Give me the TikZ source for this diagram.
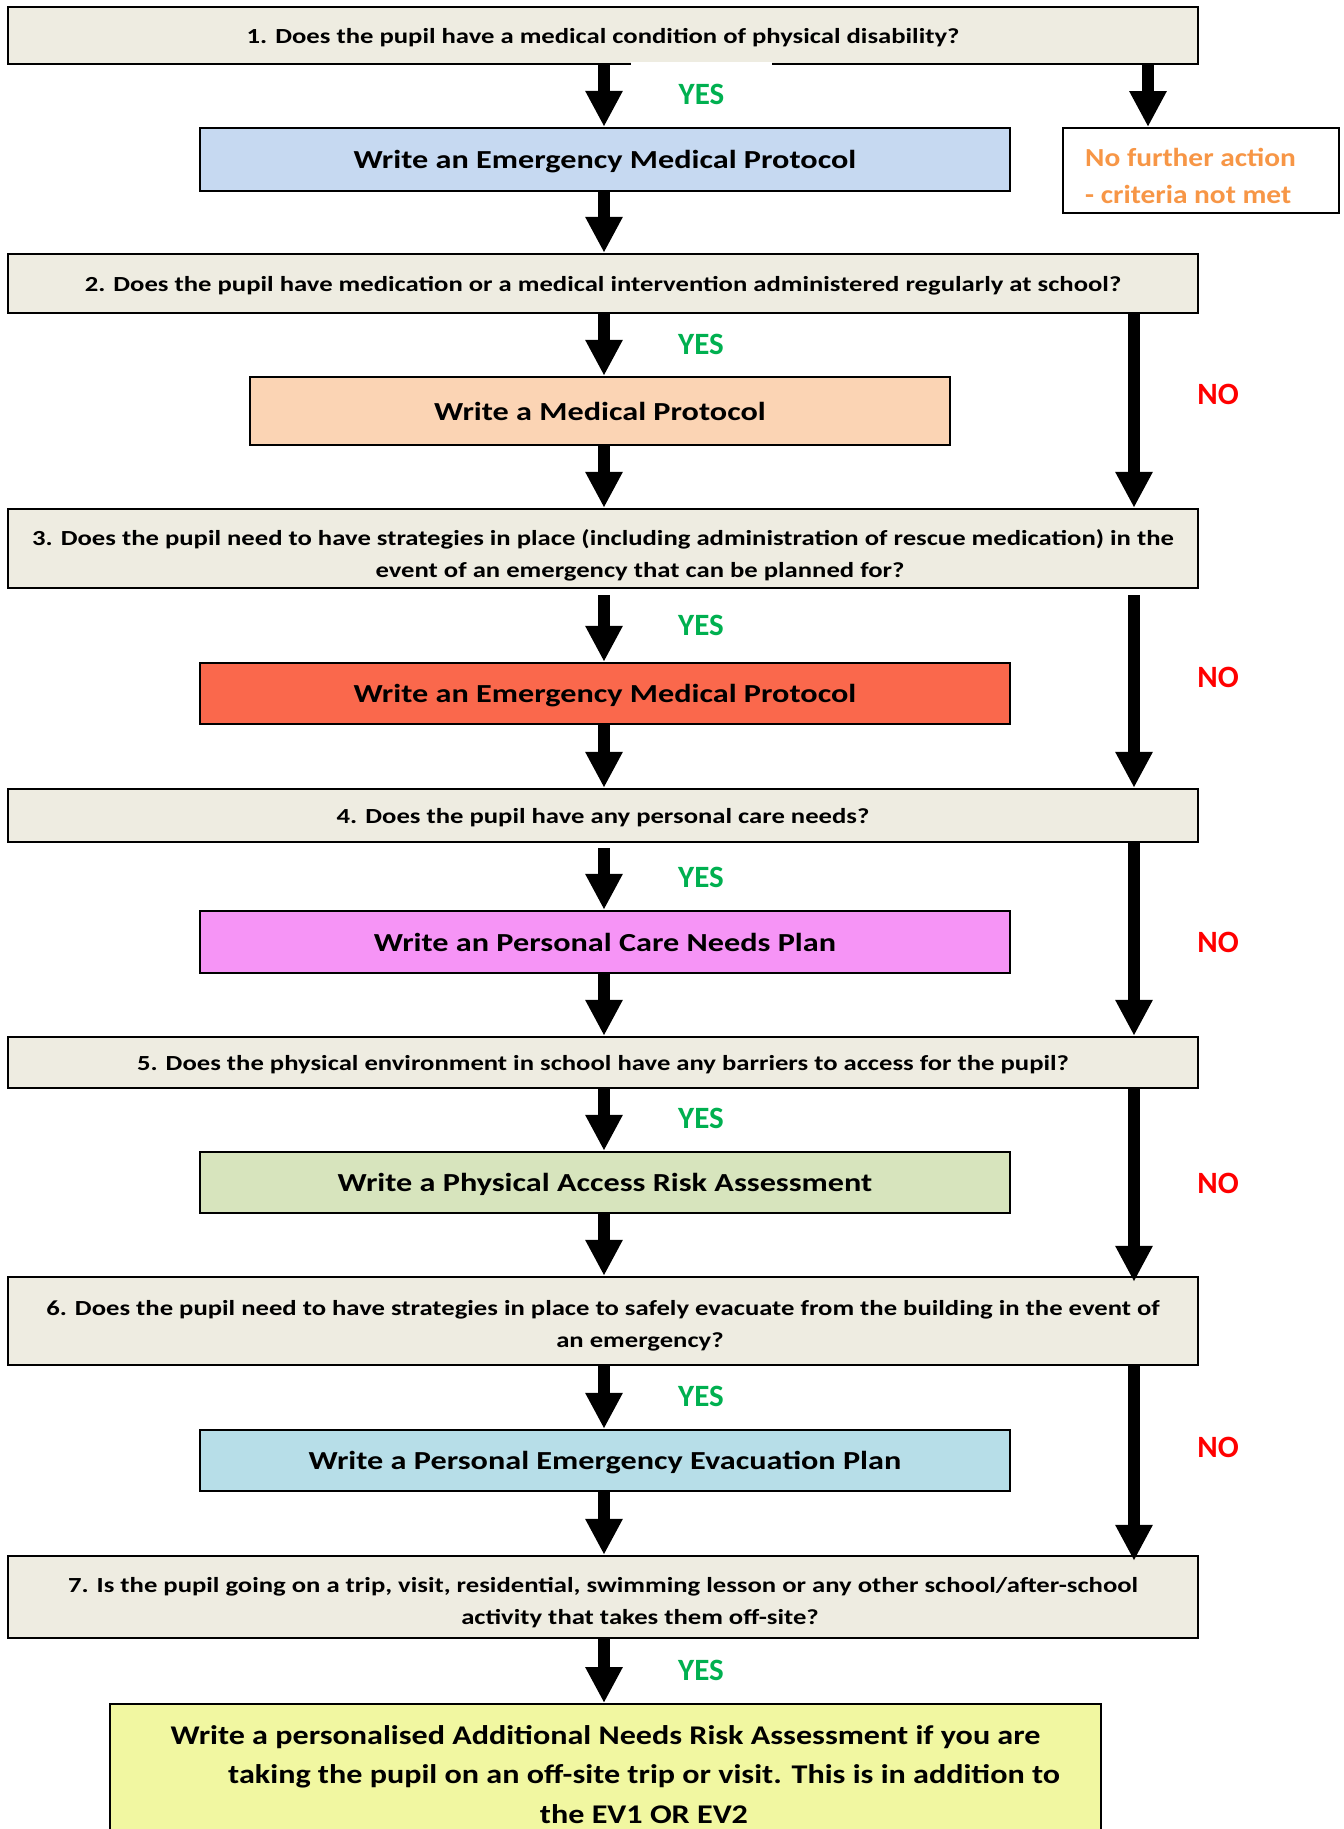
\documentclass[tikz,border=0pt]{standalone}
\usepackage{fontspec}
\setmainfont{Carlito}
\newfontfamily\qfont{Carlito}[FakeStretch=1.24]
\newfontfamily\yfont{Carlito}[FakeStretch=1.19]
\newfontfamily\nfont{Carlito}[FakeStretch=1.13]
\usetikzlibrary{arrows.meta}
\definecolor{qfill}{HTML}{EEECE1}
\definecolor{bluefill}{HTML}{C6D9F1}
\definecolor{peachfill}{HTML}{FBD4B4}
\definecolor{redfill}{HTML}{FA684C}
\definecolor{pinkfill}{HTML}{F694F6}
\definecolor{greenfill}{HTML}{D7E4BD}
\definecolor{cyanfill}{HTML}{B7DEE8}
\definecolor{yellowfill}{HTML}{F1F7A1}
\definecolor{orangetext}{HTML}{F79646}
\definecolor{yesgreen}{HTML}{00B050}
\definecolor{nored}{HTML}{FF0000}
\begin{document}
\begin{tikzpicture}[x=1pt,y=-1pt,
  qbox/.style={draw=black, line width=2.4pt, fill=qfill, minimum width=1190pt, inner sep=0pt,
    text depth=0pt, font=\qfont\fontsize{21.5}{32}\selectfont\bfseries, align=center},
  qtext/.style={inner sep=0pt, font=\qfont\fontsize{21.5}{32}\selectfont\bfseries, align=center},
  abox/.style={draw=black, line width=2.4pt, minimum width=810pt, inner sep=0pt,
    text depth=0pt, font=\qfont\fontsize{26}{31}\selectfont\bfseries, align=center},
  yeslbl/.style={text=yesgreen, inner sep=0pt, font=\fontsize{31}{32}\selectfont\bfseries},
  nolbl/.style={text=nored, inner sep=0pt, font=\fontsize{31}{32}\selectfont\bfseries},
  arr/.style={line width=12pt, -{Triangle[width=35pt,length=36pt]}}
]
\useasboundingbox (0,0) rectangle (1344,1829);
\fill[white] (0,0) rectangle (1344,1829);
\coordinate (L) at (604,0);
\coordinate (R) at (1134,0);
\coordinate (R1) at (1148,0);

% question boxes
\node[qbox, minimum height=57pt] (q1) at (603,35.5) {1. Does the pupil have a medical condition of physical disability?};
\node[qbox, minimum height=59pt] (q2) at (603,283.5) {2. Does the pupil have medication or a medical intervention administered regularly at school?};
\node[qbox, minimum height=79pt] (q3) at (603,548.5) {};
\node[qtext] (q3t) at (603,555.5) {3. Does the pupil need to have strategies in place (including administration of rescue medication) in the\\\hspace*{74pt}event of an emergency that can be planned for?};
\node[qbox, minimum height=53pt] (q4) at (603,815.5) {4. Does the pupil have any personal care needs?};
\node[qbox, minimum height=51pt] (q5) at (603,1062.5) {5. Does the physical environment in school have any barriers to access for the pupil?};
\node[qbox, minimum height=88pt] (q6) at (603,1321) {};
\node[qtext] (q6t) at (603,1326) {6. Does the pupil need to have strategies in place to safely evacuate from the building in the event of\\\hspace*{74pt}an emergency?};
\node[qbox, minimum height=82pt] (q7) at (603,1597) {};
\node[qtext] (q7t) at (603,1603) {7. Is the pupil going on a trip, visit, residential, swimming lesson or any other school/after-school\\\hspace*{74pt}activity that takes them off-site?};

% action boxes
\node[abox, fill=bluefill, minimum height=63pt] (b1) at (605,159.5) {Write an Emergency Medical Protocol};
\node[abox, fill=peachfill, minimum width=700pt, minimum height=68pt] (b2) at (600,411) {Write a Medical Protocol};
\node[abox, fill=redfill, minimum height=61pt] (b3) at (605,693.5) {Write an Emergency Medical Protocol};
\node[abox, fill=pinkfill, minimum height=62pt] (b4) at (605,942) {Write an Personal Care Needs Plan};
\node[abox, fill=greenfill, minimum height=61pt] (b5) at (605,1182.5) {Write a Physical Access Risk Assessment};
\node[abox, fill=cyanfill, minimum height=61pt] (b6) at (605,1460.5) {Write a Personal Emergency Evacuation Plan};
\node[abox, fill=yellowfill, minimum width=991pt, minimum height=140pt, anchor=north, text depth=,
  font=\yfont\fontsize{27}{39.5}\selectfont\bfseries] (b7) at (605.5,1703)
  {Write a personalised Additional Needs Risk Assessment if you are\\\hspace*{77pt}taking the pupil on an off-site trip or visit. This is in addition to\\\hspace*{77pt}the EV1 OR EV2};

% no further action
\node[draw=black, line width=2pt, fill=white, minimum width=276pt, minimum height=85pt, inner sep=0pt] (nfa) at (1201,170.5) {};
\node[text=orangetext, anchor=west, align=left, inner sep=0pt, font=\nfont\fontsize{26}{37}\selectfont\bfseries] (nfatext) at (1085,176) {No further action\\- criteria not met};

% YES / NO labels
\node[yeslbl, fill=white, minimum width=141pt, minimum height=64pt] (y1) at (701.5,94) {YES};
\node[yeslbl] (y2) at (701,344) {YES};
\node[yeslbl] (y3) at (701,625) {YES};
\node[yeslbl] (y4) at (701,877) {YES};
\node[yeslbl] (y5) at (701,1118) {YES};
\node[yeslbl] (y6) at (701,1396) {YES};
\node[yeslbl] (y7) at (701,1670) {YES};
\node[nolbl] (n2) at (1218,394) {NO};
\node[nolbl] (n3) at (1218,677) {NO};
\node[nolbl] (n4) at (1218,942) {NO};
\node[nolbl] (n5) at (1218,1183) {NO};
\node[nolbl] (n6) at (1218,1447) {NO};

% YES arrows
\draw[arr] (q1.south -| L) -- (b1.north -| L);
\draw[arr] (b1.south -| L) -- (q2.north -| L);
\draw[arr] (q2.south -| L) -- (b2.north -| L);
\draw[arr] (b2.south -| L) -- (q3.north -| L);
\draw[arr, shorten <=6pt] (q3.south -| L) -- (b3.north -| L);
\draw[arr] (b3.south -| L) -- (q4.north -| L);
\draw[arr, shorten <=5pt] (q4.south -| L) -- (b4.north -| L);
\draw[arr] (b4.south -| L) -- (q5.north -| L);
\draw[arr] (q5.south -| L) -- (b5.north -| L);
\draw[arr] (b5.south -| L) -- (q6.north -| L);
\draw[arr] (q6.south -| L) -- (b6.north -| L);
\draw[arr] (b6.south -| L) -- (q7.north -| L);
\draw[arr] (q7.south -| L) -- (b7.north -| L);

% NO arrows
\draw[arr] (q1.south -| R1) -- (nfa.north -| R1);
\draw[arr] (q2.south -| R) -- (q3.north -| R);
\draw[arr, shorten <=6pt] (q3.south -| R) -- (q4.north -| R);
\draw[arr] (q4.south -| R) -- (q5.north -| R);
\draw[arr, shorten >=-6pt] (q5.south -| R) -- (q6.north -| R);
\draw[arr, shorten >=-6pt] (q6.south -| R) -- (q7.north -| R);
\end{tikzpicture}
\end{document}
